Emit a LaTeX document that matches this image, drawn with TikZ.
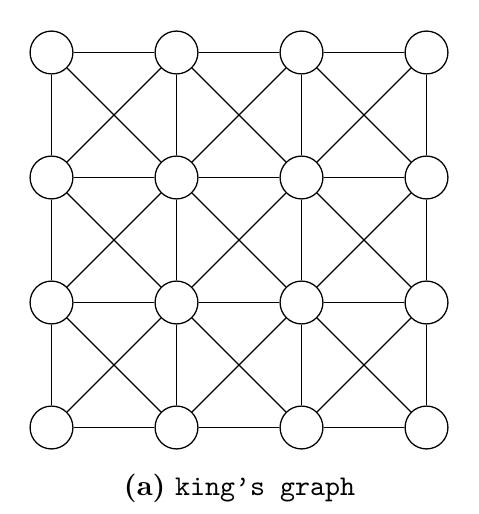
\documentclass[tikz,border=0pt]{standalone}
\usepackage{tikz}
\usetikzlibrary{positioning}

\begin{document}
\begin{tikzpicture}[x=0.35pt, y=-0.35pt,
  king/.style = {shape=circle, draw, inner sep=0pt,
    minimum size=15pt},
  every path/.style = {line width=0.45pt}
  ]
  \useasboundingbox (0,0) rectangle (478,514);
  % the 4x4 board
  \foreach \i in {0,...,3}
    \foreach \j in {0,...,3}
      \node[king] (n-\i-\j) at ({51.5+125*\i},{52.5+125*\j}) {};
  % king moves
  \foreach \i in {0,...,2}
    \foreach \j in {0,...,2} {
      \pgfmathtruncatemacro\k{\i+1}
      \pgfmathtruncatemacro\l{\j+1}
      \draw (n-\i-\j) -- (n-\k-\l);
      \draw (n-\k-\j) -- (n-\i-\l);
    }
  \foreach \i in {0,...,2}
    \foreach \j in {0,...,3} {
      \pgfmathtruncatemacro\k{\i+1}
      \draw (n-\i-\j) -- (n-\k-\j);
      \draw (n-\j-\i) -- (n-\j-\k);
    }
  \node[anchor=base] (caption) at (239.5,495)
    {\textbf{(a)} \texttt{king\textquoteright s graph}};
\end{tikzpicture}
\end{document}
